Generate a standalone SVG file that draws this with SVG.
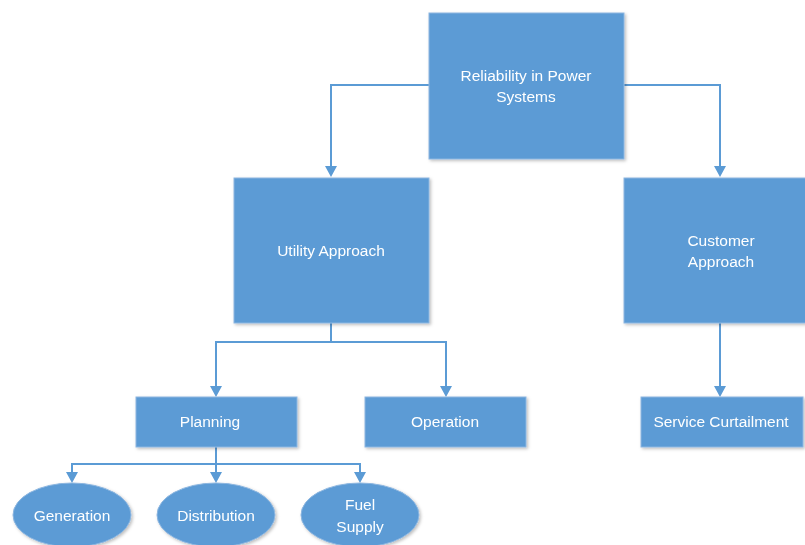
<svg xmlns="http://www.w3.org/2000/svg" width="805" height="545" viewBox="0 0 805 545">
<style>
.n{fill:#5B9BD5;stroke:#8DB6E0;stroke-width:1}
.t{fill:#FFFFFF;font-family:"Liberation Sans",Arial,sans-serif;font-size:15.5px;text-anchor:middle;dominant-baseline:central}
.c{fill:none;stroke:#5B9BD5;stroke-width:2}
.a{fill:#5B9BD5}
</style>
<defs>
<filter id="sh" x="-10%" y="-10%" width="130%" height="130%">
<feDropShadow dx="1.5" dy="1.5" stdDeviation="1.5" flood-color="#000" flood-opacity="0.25"/>
</filter>
</defs>
<g id="connectors">
<path class="c" d="M429,85 H331 V168"/>
<path class="c" d="M624,85 H720 V168"/>
<path class="c" d="M331,323 V342 H216 V388"/>
<path class="c" d="M331,342 H446 V388"/>
<path class="c" d="M720,323 V388"/>
<path class="c" d="M216,447 V464 H72 V474"/>
<path class="c" d="M216,464 V474"/>
<path class="c" d="M216,464 H360 V474"/>
<path class="a" d="M325,166 L337,166 L331,177 Z M714,166 L726,166 L720,177 Z M210,386 L222,386 L216,397 Z M440,386 L452,386 L446,397 Z M714,386 L726,386 L720,397 Z M66,472 L78,472 L72,483 Z M210,472 L222,472 L216,483 Z M354,472 L366,472 L360,483 Z"/>
</g>
<g id="root" filter="url(#sh)">
<rect class="n" x="429" y="13" width="195" height="146"/>
<text class="t" x="526" y="75">Reliability in Power</text>
<text class="t" x="526" y="96">Systems</text>
</g>
<g id="utility" filter="url(#sh)">
<rect class="n" x="234" y="178" width="195" height="145"/>
<text class="t" x="331" y="250">Utility Approach</text>
</g>
<g id="customer" filter="url(#sh)">
<rect class="n" x="624" y="178" width="195" height="145"/>
<text class="t" x="721" y="240">Customer</text>
<text class="t" x="721" y="261">Approach</text>
</g>
<g id="planning" filter="url(#sh)">
<rect class="n" x="136" y="397" width="161" height="50"/>
<text class="t" x="210" y="421">Planning</text>
</g>
<g id="operation" filter="url(#sh)">
<rect class="n" x="365" y="397" width="161" height="50"/>
<text class="t" x="445" y="421">Operation</text>
</g>
<g id="service" filter="url(#sh)">
<rect class="n" x="641" y="397" width="162" height="50"/>
<text class="t" x="721" y="421">Service Curtailment</text>
</g>
<g id="generation" filter="url(#sh)">
<ellipse class="n" cx="72" cy="515" rx="59" ry="32"/>
<text class="t" x="72" y="515">Generation</text>
</g>
<g id="distribution" filter="url(#sh)">
<ellipse class="n" cx="216" cy="515" rx="59" ry="32"/>
<text class="t" x="216" y="515">Distribution</text>
</g>
<g id="fuel" filter="url(#sh)">
<ellipse class="n" cx="360" cy="515" rx="59" ry="32"/>
<text class="t" x="360" y="504">Fuel</text>
<text class="t" x="360" y="526">Supply</text>
</g>
</svg>
